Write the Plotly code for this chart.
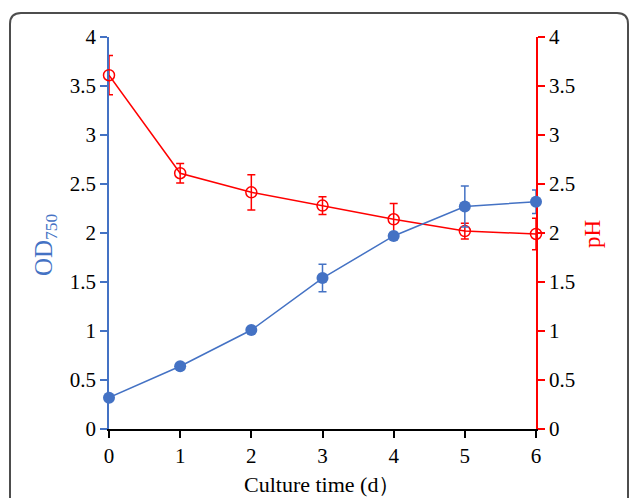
import plotly.graph_objects as go

days = [0, 1, 2, 3, 4, 5, 6]
od750 = [0.32, 0.64, 1.01, 1.54, 1.97, 2.27, 2.32]
od750_err = [0.02, 0.02, 0.02, 0.14, 0.02, 0.21, 0.12]
ph = [3.61, 2.61, 2.415, 2.28, 2.14, 2.02, 1.99]
ph_err = [0.2, 0.1, 0.18, 0.09, 0.16, 0.08, 0.16]

x_ticks = [0, 1, 2, 3, 4, 5, 6]
y_ticks = [0, 0.5, 1, 1.5, 2, 2.5, 3, 3.5, 4]
y_tick_text = ["0", "0.5", "1", "1.5", "2", "2.5", "3", "3.5", "4"]

BLUE = "#4472C4"
RED = "#FF0000"
FONT = "Liberation Serif"
TICK_SIZE = 21

fig = go.Figure()

fig.add_trace(go.Scatter(
    x=days, y=ph, yaxis="y", mode="lines+markers", name="pH",
    line=dict(color=RED, width=1.5),
    marker=dict(symbol="circle-open", size=11, color=RED, line=dict(width=1.5, color=RED)),
    error_y=dict(type="data", array=ph_err, visible=True, color=RED, thickness=1.5, width=4),
    cliponaxis=False, showlegend=False,
))

fig.add_trace(go.Scatter(
    x=days, y=od750, yaxis="y2", mode="lines+markers", name="OD750",
    line=dict(color=BLUE, width=1.5),
    marker=dict(symbol="circle", size=12, color=BLUE),
    error_y=dict(type="data", array=od750_err, visible=True, color=BLUE, thickness=1.5, width=4),
    cliponaxis=False, showlegend=False,
))

W, H = 629, 498
L, R, T, B = 109, 93, 37, 69
pw, ph_ = W - L - R, H - T - B

def px(x):
    return (x - L) / pw

def py(y):
    return (H - B - y) / ph_

# rounded frame around the figure
x0, x1 = px(10), px(628)
y0, y1 = py(520), py(13)
rx, ry = 11 / pw, 11 / ph_
path = (f"M {x0},{y0} L {x0},{y1-ry} Q {x0},{y1} {x0+rx},{y1} "
        f"L {x1-rx},{y1} Q {x1},{y1} {x1},{y1-ry} L {x1},{y0}")

fig.update_layout(
    width=W, height=H,
    margin=dict(l=L, r=R, t=T, b=B, pad=0),
    paper_bgcolor="white", plot_bgcolor="white",
    font=dict(family=FONT, size=TICK_SIZE, color="black"),
    xaxis=dict(
        range=[0, 6], tickvals=x_ticks, ticks="outside", ticklen=7, tickwidth=1.5,
        tickcolor="black", showline=True, linecolor="black", linewidth=1.5,
        showgrid=False, zeroline=False, tickfont=dict(family=FONT, size=TICK_SIZE, color="black"),
        layer="below traces",
    ),
    yaxis=dict(
        range=[0, 4], side="right", tickvals=y_ticks, ticktext=y_tick_text,
        ticks="outside", ticklen=7, tickwidth=1.5, tickcolor=RED,
        showline=True, linecolor=RED, linewidth=1.5, showgrid=False, zeroline=False,
        tickfont=dict(family=FONT, size=TICK_SIZE, color="black"), layer="below traces",
    ),
    yaxis2=dict(
        range=[0, 4], side="left", overlaying="y", tickvals=y_ticks, ticktext=y_tick_text,
        ticks="outside", ticklen=7, tickwidth=1.5, tickcolor=BLUE,
        showline=True, linecolor=BLUE, linewidth=1.5, showgrid=False, zeroline=False,
        tickfont=dict(family=FONT, size=TICK_SIZE, color="black"), layer="below traces",
    ),
    shapes=[dict(type="path", path=path, xref="paper", yref="paper",
                 line=dict(color="#4d4d4d", width=2), layer="above")],
    annotations=[
        dict(text="Culture time (d\uff09", x=px(322), y=py(484), xref="paper", yref="paper",
             showarrow=False, font=dict(family=FONT, size=22, color="black"),
             xanchor="center", yanchor="middle"),
        dict(text="OD<sub>750</sub>", x=px(46), y=py(245), xref="paper", yref="paper",
             showarrow=False, textangle=-90, font=dict(family=FONT, size=25, color=BLUE),
             xanchor="center", yanchor="middle"),
        dict(text="pH", x=px(592), y=py(234), xref="paper", yref="paper",
             showarrow=False, textangle=-90, font=dict(family=FONT, size=23, color=RED),
             xanchor="center", yanchor="middle"),
    ],
)

fig.write_html(
    "out.html",
    config={"displayModeBar": False},
    post_script="document.body.style.margin='0';document.body.style.overflow='hidden';",
)
